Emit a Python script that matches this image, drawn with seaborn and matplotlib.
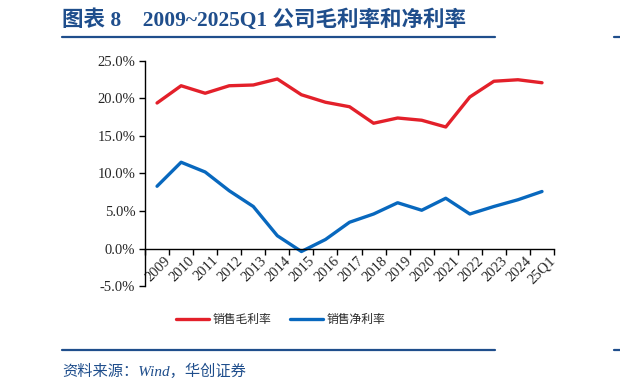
import matplotlib
matplotlib.use("Agg")
import matplotlib.pyplot as plt
import matplotlib.transforms as mtransforms
import numpy as np
import pandas as pd
import seaborn as sns

# 数据：销售毛利率 / 销售净利率 (%)
periods = ["2009", "2010", "2011", "2012", "2013", "2014", "2015", "2016", "2017",
           "2018", "2019", "2020", "2021", "2022", "2023", "2024", "25Q1"]
gross_margin = [19.4, 21.7, 20.7, 21.7, 21.8, 22.6, 20.5, 19.5, 18.9,
                16.7, 17.4, 17.1, 16.2, 20.2, 22.3, 22.5, 22.1]
net_margin = [8.3, 11.5, 10.2, 7.7, 5.6, 1.7, -0.4, 1.2, 3.5,
              4.6, 6.1, 5.1, 6.7, 4.6, 5.6, 6.5, 7.6]
series_names = ["销售毛利率", "销售净利率"]
y_ticks = [-5, 0, 5, 10, 15, 20, 25]

RED = "#E3202A"
BLUE = "#0868BE"
NAVY = "#1F4E8C"

sns.set_theme(style="white")
plt.rcParams["font.family"] = ["Liberation Serif", "Noto Sans CJK SC", "DejaVu Sans"]
plt.rcParams["axes.unicode_minus"] = False

df = pd.DataFrame({
    "pos": list(range(len(periods))) * 2,
    "value": gross_margin + net_margin,
    "series": [series_names[0]] * len(periods) + [series_names[1]] * len(periods),
})

fig = plt.figure(figsize=(6.2, 3.92), dpi=100)
ax = fig.add_axes([0.2339, 0.2704, 0.6597, 0.574])

sns.lineplot(data=df, x="pos", y="value", hue="series", palette=[RED, BLUE],
             linewidth=2.4, ax=ax, legend=False)

ax.set_xlim(-0.5, len(periods) - 0.5)
ax.set_ylim(-5, 25)
ax.set_xlabel("")
ax.set_ylabel("")

# 坐标轴：x 轴放在 0 处，刻度在类别之间
ax.spines["bottom"].set_position(("data", 0))
ax.spines["top"].set_visible(False)
ax.spines["right"].set_visible(False)
for s in ("bottom", "left"):
    ax.spines[s].set_color("black")
    ax.spines[s].set_linewidth(1.0)

ax.set_xticks(np.arange(-0.5, len(periods), 1.0))
ax.set_xticklabels([])
ax.set_xticks(np.arange(len(periods)), minor=True)
ax.set_xticklabels(periods, minor=True, rotation=45, ha="right",
                   rotation_mode="anchor", fontsize=10.5)
ax.tick_params(axis="x", which="major", direction="out", length=4, width=1,
               color="black", bottom=True)
ax.tick_params(axis="x", which="minor", length=0, pad=4, bottom=True)
shift = mtransforms.ScaledTranslation(5 / 72, 0, fig.dpi_scale_trans)
for lbl in ax.get_xticklabels(minor=True):
    lbl.set_transform(lbl.get_transform() + shift)

ax.set_yticks(y_ticks)
ax.set_yticklabels([f"{v:.1f}%" for v in y_ticks], fontsize=10.5)
ax.tick_params(axis="y", direction="out", length=4, width=1, color="black",
               left=True, pad=3)
ax.grid(False)

# 图例
handles = [plt.Line2D([], [], color=RED, lw=2.4), plt.Line2D([], [], color=BLUE, lw=2.4)]
fig.legend(handles, series_names, loc="center", bbox_to_anchor=(0.453, 0.183),
           ncol=2, frameon=False, fontsize=8.5, handlelength=2.8,
           handletextpad=0.3, columnspacing=1.6)

# 标题与来源
fig.text(0.1, 0.948, "图表 8    2009~2025Q1 公司毛利率和净利率", fontsize=15.5,
         fontweight="bold", color=NAVY, ha="left", va="center")
fig.add_artist(plt.Line2D([0.1, 0.798], [0.906, 0.906], color=NAVY, lw=1.6))
fig.add_artist(plt.Line2D([0.99, 1.0], [0.906, 0.906], color=NAVY, lw=1.6))
fig.add_artist(plt.Line2D([0.1, 0.798], [0.107, 0.107], color=NAVY, lw=1.6))
fig.add_artist(plt.Line2D([0.99, 1.0], [0.107, 0.107], color=NAVY, lw=1.6))
fig.text(0.1, 0.053, "资料来源：Wind，华创证券", fontsize=11, style="italic",
         color=NAVY, ha="left", va="center")

fig.savefig("out.png", dpi=100)
